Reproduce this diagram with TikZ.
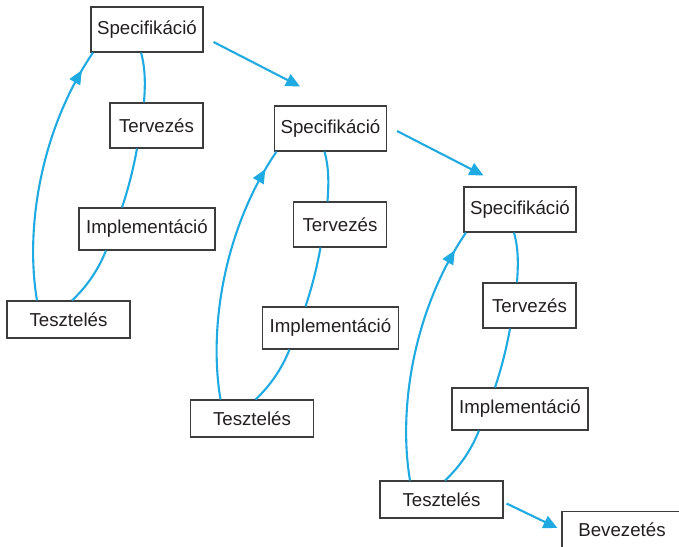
\documentclass[tikz,border=0pt]{standalone}
\usepackage{fontspec}
\setmainfont{Liberation Sans}
\usetikzlibrary{arrows.meta,decorations.markings}
\definecolor{cblue}{RGB}{32,170,226}
\definecolor{cbox}{RGB}{60,60,60}
\definecolor{ctext}{RGB}{35,31,32}
\begin{document}
\begin{tikzpicture}[x=1pt,y=-1pt,
  box/.style={draw=cbox,line width=1.1pt,fill=white,text=ctext,
    font=\fontsize{18.7}{22}\selectfont,inner sep=0pt,anchor=center},
  link/.style={draw=cblue,line width=2.1pt},
  tip/.style={-{Triangle[length=14pt,width=13pt]}},
  midtip/.style={postaction={decorate,decoration={markings,
    mark=at position 0.92 with {\arrow{Triangle[length=14pt,width=12pt]}}}}}]
\useasboundingbox (0,0) rectangle (679,546);
\foreach \g/\dx/\dy in {1/0/0,2/183.5/99,3/373/180}{
  \begin{scope}[shift={(\dx,\dy)}]
    \node[box,minimum width=112pt,minimum height=45pt] (s\g) at (147,29.5) {Specifikáció};
    \node[box,minimum width=93pt,minimum height=45pt] (t\g) at (156.5,125.5) {Tervezés};
    \node[box,minimum width=136pt,minimum height=42pt] (i\g) at (147,229) {Implementáció};
    \node[box,minimum width=123pt,minimum height=37pt] (z\g) at (68.5,319.5) {Tesztelés};
    \draw[link] ([xshift=-6pt]s\g.south) .. controls +(5,18) and +(1,-15) .. ([xshift=-12.5pt]t\g.north);
    \draw[link] ([xshift=-19.5pt]t\g.south) .. controls +(-4,22) and +(6,-18) .. ([xshift=-25pt]i\g.north);
    \draw[link] ([xshift=-41pt]i\g.south) .. controls +(-8,20) and +(14,-13) .. ([xshift=3.5pt]z\g.north);
    \draw[link,midtip] ([xshift=-31.5pt]z\g.north) .. controls +(-12,-71) and +(-53,78) .. ([xshift=-54pt]s\g.south);
  \end{scope}
}
\node[box,minimum width=120pt,minimum height=37pt] (b) at (622,530) {Bevezetés};
\draw[link,tip] ([shift={(10,12.5)}]s1.east) -- ([shift={(26,-19)}]s2.north west);
\draw[link,tip] ([shift={(10,2.5)}]s2.east) -- ([shift={(20,-11)}]s3.north west);
\draw[link,tip] ([shift={(3,4)}]z3.east) -- ([shift={(-4,-2)}]b.west);
\end{tikzpicture}
\end{document}
